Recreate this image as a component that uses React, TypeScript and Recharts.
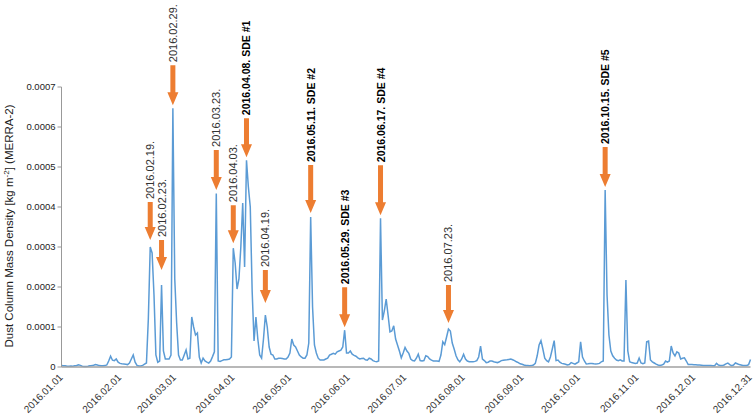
import React from 'react';
import { LineChart, Line, XAxis, YAxis, ReferenceDot } from 'recharts';

// Daily dust column mass density, 2016, in units of 1e-5 kg m-2 (MERRA-2)
const jan = [0.4, 0.3, 0.3, 0.2, 0.2, 0.25, 0.2, 0.3, 0.4, 0.55, 0.4, 0.2, 0.15, 0.15, 0.2, 0.3, 0.35, 0.45, 0.6, 0.5, 0.35, 0.3, 0.3, 0.35, 0.5, 1.5, 2.7, 1.7, 1.6, 2.0, 1.2];
const feb = [0.9, 0.8, 0.75, 0.7, 0.6, 1.0, 2.0, 3.0, 1.2, 0.4, 0.25, 0.25, 0.4, 0.7, 1.0, 12, 30, 28.5, 18, 3, 1.2, 1.5, 20.5, 4, 2, 2, 2, 3, 64.7];
const mar = [22, 11, 3, 1.75, 1.75, 3, 4.25, 2, 2.2, 12.5, 10, 8, 8.5, 2.5, 1.0, 2.2, 1.5, 1.2, 1.0, 1.5, 2.6, 3.8, 43.4, 1.5, 1.4, 1.6, 1.8, 1.8, 1.9, 2.0, 2.5];
const apr = [29.7, 26, 19.5, 22, 30, 41, 25, 51.7, 45, 40, 19, 6.5, 12.5, 7, 3, 2.2, 7, 13, 10, 5, 3.2, 3, 2, 2, 2.2, 2.2, 2.1, 2.0, 2.0, 2.5];
const may = [3.5, 7, 5.5, 5, 4, 3, 2.5, 2.2, 2.2, 3, 6, 37.5, 15, 5.5, 3.5, 2.2, 1.75, 1.75, 1.75, 2, 2.2, 3, 3.2, 3.4, 3.2, 3.8, 4, 4.2, 5, 9.2, 3.5];
const jun = [3.5, 4.0, 3.2, 2.9, 2.7, 2.3, 2.0, 2.1, 2.2, 1.8, 1.7, 2.2, 2.0, 1.6, 1.4, 1.3, 1.5, 37.2, 11.75, 14, 17, 13, 8.8, 9, 10.3, 7, 5.5, 4, 2.3, 3.5];
const jul = [4.9, 4, 3.4, 2, 1.6, 1.5, 2.2, 3.2, 1.6, 1.5, 1.6, 2.8, 2.6, 2.0, 1.7, 1.5, 1.5, 1.5, 1.4, 3, 6.3, 5.6, 7.5, 9.5, 9, 6, 4.5, 2.8, 1.8, 1.3, 2];
const aug = [3.2, 2, 1.5, 1.3, 1.3, 1.3, 1.4, 1.6, 2.5, 5.2, 2, 1.6, 1.1, 1.2, 1.5, 1.5, 1.3, 1.2, 1.1, 1.3, 1.6, 1.7, 1.75, 1.8, 1.9, 2.0, 1.8, 1.6, 1.3, 1.1, 0.8];
const sep = [0.7, 0.5, 0.4, 0.35, 0.3, 0.35, 0.5, 0.9, 2.8, 5.5, 6.6, 4.5, 2.2, 1.6, 1.3, 2.5, 4.5, 6.6, 1.6, 1.75, 1.2, 0.9, 0.8, 0.7, 0.5, 0.6, 1.1, 0.9, 0.7, 1.0];
const oct = [1.3, 6.3, 2.5, 1.5, 0.75, 0.8, 0.9, 0.9, 0.8, 0.75, 0.8, 0.9, 1.3, 1.5, 44.25, 18, 8, 4, 2.8, 2.2, 1.75, 1.6, 1.8, 1.5, 1.5, 21.75, 4, 1.3, 1.1, 1.0, 0.9];
const nov = [1.0, 2.25, 1.0, 0.8, 1.0, 6.3, 6.5, 1.75, 1.3, 1.0, 0.7, 0.5, 0.4, 0.5, 0.7, 1.5, 1.2, 1.5, 5.25, 3.5, 2.75, 3.8, 3.5, 2.0, 2.2, 2.3, 1.5, 0.6, 0.6, 0.6];
const dec = [0.55, 0.55, 0.5, 0.5, 0.45, 0.4, 0.35, 0.35, 0.35, 0.35, 0.3, 0.3, 0.9, 0.5, 0.4, 0.35, 0.5, 0.8, 1.0, 0.6, 0.35, 0.5, 1.0, 0.8, 0.6, 0.5, 0.4, 0.35, 0.4, 0.6, 1.9];

const UNIT = 1e-5;

// x-axis ticks (day of year) and their labels
const tickDays = [0, 31, 60, 91, 121, 152, 182, 213, 244, 274, 305, 335, 365];
const tickLabels = ['2016.01.01', '2016.02.01', '2016.03.01', '2016.04.01', '2016.05.01', '2016.06.01', '2016.07.01', '2016.08.01', '2016.09.01', '2016.10.01', '2016.11.01', '2016.12.01', '2016.12.31'];
const yTicks = [0, 0.0001, 0.0002, 0.0003, 0.0004, 0.0005, 0.0006, 0.0007];

// annotated events: day of year of the marked peak, label, bold
const annDays = [47, 53, 59, 82, 91, 98, 108, 132, 150, 169, 205, 288];
const annLabels = ['2016.02.19.', '2016.02.23.', '2016.02.29.', '2016.03.23.', '2016.04.03.', '2016.04.08. SDE #1', '2016.04.19.', '2016.05.11. SDE #2', '2016.05.29. SDE #3', '2016.06.17. SDE #4', '2016.07.23.', '2016.10.15. SDE #5'];
const annBold = [false, false, false, false, false, true, false, true, true, true, false, true];
// arrow layout: [gap above peak, arrow length] in px
const arrowGeom: [number, number][] = [[7, 38], [15, 30], [3, 40], [3.5, 40], [5, 38], [3, 39], [12, 33], [4, 48], [3, 40], [3, 50], [6, 38], [3, 40]];

const data = [jan, feb, mar, apr, may, jun, jul, aug, sep, oct, nov, dec]
  .flat()
  .map((v, i) => ({ day: i, value: v * UNIT }));

const FONT = '"Liberation Sans", Arial, Helvetica, sans-serif';
const ORANGE = '#ED7D31';

function XTick(props: any) {
  const { x, payload } = props;
  const idx = tickDays.indexOf(payload.value);
  const tx = x + 2;
  const ty = 378;
  return (
    <text x={tx} y={ty} textAnchor="end" transform={`rotate(-45 ${tx} ${ty})`} fontSize={10} fill="#333" fontFamily={FONT}>
      {tickLabels[idx]}
    </text>
  );
}

function YTitle() {
  return (
    <text transform="translate(12.5 226) rotate(-90)" textAnchor="middle" fontSize={11.5} fill="#222" fontFamily={FONT}>
      Dust Column Mass Density [kg m<tspan dy={-4} fontSize={8}>-2</tspan>
      <tspan dy={4}>] (MERRA-2)</tspan>
    </text>
  );
}

function Annotation({ cx, cy, text, bold, gap, len }: any) {
  if (cx == null || cy == null) return null;
  const tip = cy - gap;
  const top = tip - len;
  const head = 13;
  const hw = 5.5;
  const sw = 2.5;
  const pts = [
    [cx, tip],
    [cx - hw, tip - head],
    [cx - sw, tip - head],
    [cx - sw, top],
    [cx + sw, top],
    [cx + sw, tip - head],
    [cx + hw, tip - head],
  ]
    .map((p) => p.join(','))
    .join(' ');
  const tx = cx + 4;
  const ty = top - 3;
  return (
    <g>
      <polygon points={pts} fill={ORANGE} />
      <text
        transform={`translate(${tx} ${ty}) rotate(-90)`}
        textAnchor="start"
        fontSize={bold ? 10.5 : 11}
        fontWeight={bold ? 'bold' : 'normal'}
        fill={bold ? '#000' : '#333'}
        fontFamily={FONT}
      >
        {text}
      </text>
    </g>
  );
}

export default function App() {
  return (
    <div style={{ position: 'fixed', left: 0, top: 0, width: 754, height: 414, background: '#fff' }}>
      <LineChart
        width={754}
        height={414}
        data={data}
        margin={{ top: 87, right: 3.5, bottom: 0, left: 0.5 }}
        style={{ fontFamily: FONT }}
      >
        <XAxis
          type="number"
          dataKey="day"
          domain={[0, 365]}
          ticks={tickDays}
          interval={0}
          height={47}
          tick={<XTick />}
          tickLine={false}
          axisLine={{ stroke: '#A0A0A0', strokeWidth: 1.5 }}
        />
        <YAxis
          type="number"
          domain={[0, 0.0007]}
          ticks={yTicks}
          interval={0}
          width={61}
          tickSize={4}
          tickMargin={2}
          tick={{ fontSize: 9.5, fill: '#222', fontFamily: FONT }}
          tickLine={{ stroke: '#999' }}
          axisLine={{ stroke: '#999' }}
          tickFormatter={(v: number) => String(v)}
          label={<YTitle />}
        />
        <Line
          type="linear"
          dataKey="value"
          stroke="#5B9BD5"
          strokeWidth={1.5}
          dot={false}
          isAnimationActive={false}
        />
        {annDays.map((d, i) => (
          <ReferenceDot
            key={annLabels[i]}
            x={d}
            y={data[d].value}
            r={0}
            ifOverflow="visible"
            shape={(p: any) => (
              <Annotation
                cx={p.cx}
                cy={p.cy}
                text={annLabels[i]}
                bold={annBold[i]}
                gap={arrowGeom[i][0]}
                len={arrowGeom[i][1]}
              />
            )}
          />
        ))}
      </LineChart>
    </div>
  );
}
